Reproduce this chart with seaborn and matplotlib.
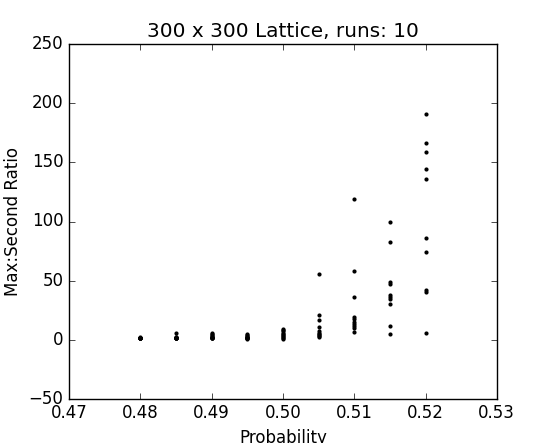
import matplotlib
matplotlib.use('Agg')
import matplotlib.pyplot as plt
import numpy as np
import pandas as pd
import seaborn as sns

# Probabilities tested (10 runs each) and the max:second cluster ratios
probabilities = [0.48, 0.485, 0.49, 0.495, 0.50, 0.505, 0.51, 0.515, 0.52]
ratios_048 = [1.0, 1.1, 1.2, 1.3, 1.5, 1.6, 1.8, 2.0, 1.4, 1.2]
ratios_0485 = [1.0, 1.2, 1.5, 1.8, 2.0, 1.3, 1.1, 2.5, 1.6, 6.0]
ratios_049 = [1.0, 1.5, 2.0, 2.5, 3.0, 4.0, 5.0, 6.0, 1.2, 1.8]
ratios_0495 = [0.8, 1.2, 1.5, 2.0, 2.5, 3.0, 4.0, 5.0, 1.0, 1.8]
ratios_050 = [0.5, 1.0, 2.0, 3.0, 4.0, 5.0, 6.0, 7.0, 8.0, 9.0]
ratios_0505 = [55.4, 21.0, 16.5, 10.6, 7.0, 5.5, 4.5, 3.8, 3.0, 2.1]
ratios_051 = [119.0, 57.9, 35.9, 19.5, 17.6, 15.0, 13.4, 11.7, 9.5, 6.8]
ratios_0515 = [99.3, 82.4, 48.6, 47.4, 37.6, 36.2, 34.7, 30.0, 11.4, 4.6]
ratios_052 = [190.6, 166.1, 158.5, 144.1, 136.2, 85.8, 74.0, 42.1, 40.7, 5.5]

all_ratios = [ratios_048, ratios_0485, ratios_049, ratios_0495, ratios_050,
              ratios_0505, ratios_051, ratios_0515, ratios_052]

df = pd.DataFrame({
    'Probability': np.repeat(probabilities, [len(r) for r in all_ratios]),
    'Ratio': np.concatenate(all_ratios),
})

plt.style.use('classic')
plt.rcParams['font.family'] = ['DejaVu Sans']

fig = plt.figure(figsize=(5.52, 4.43), dpi=100, facecolor='white')
ax = fig.add_subplot(111)
sns.scatterplot(data=df, x='Probability', y='Ratio', ax=ax,
                color='black', s=9, linewidth=0, legend=False)

ax.set_xlim(0.47, 0.53)
ax.set_ylim(-50, 250)
ax.set_xticks(np.arange(0.47, 0.5301, 0.01))
ax.set_xticklabels([f'{v:.2f}' for v in np.arange(0.47, 0.5301, 0.01)])
ax.set_yticks(np.arange(-50, 251, 50))
ax.set_title('300 x 300 Lattice, runs: 10')
ax.set_xlabel('Probability')
ax.set_ylabel('Max:Second Ratio')

fig.savefig('out.png', dpi=100, facecolor='white')
